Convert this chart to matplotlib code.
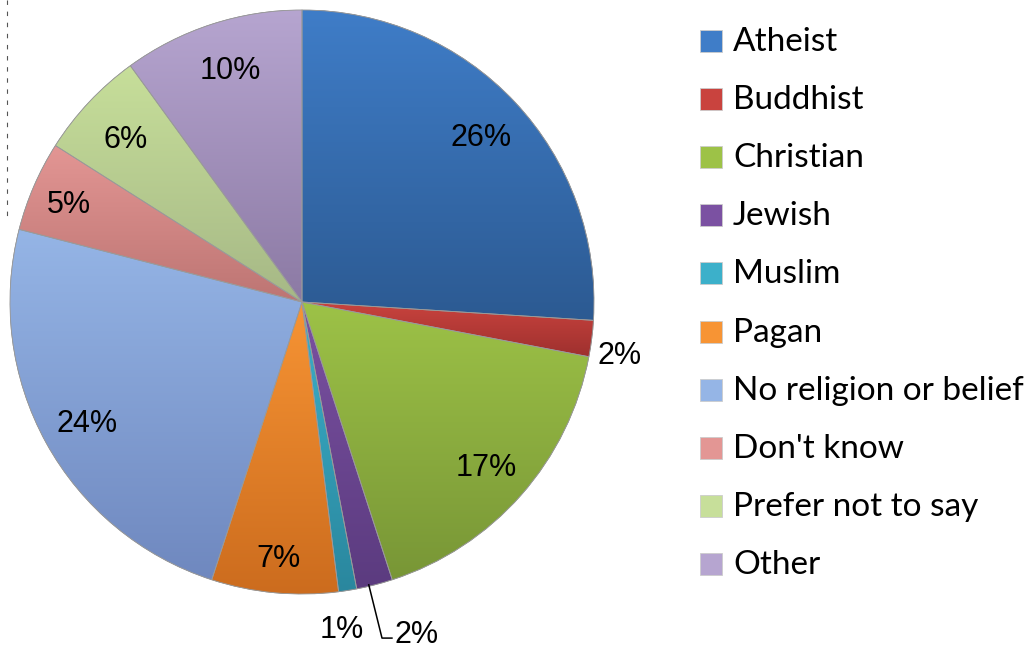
import numpy as np
import matplotlib
matplotlib.use("Agg")
import matplotlib.pyplot as plt
from matplotlib.colors import to_rgb
from matplotlib.patches import Rectangle, Wedge

labels = ["Atheist", "Buddhist", "Christian", "Jewish", "Muslim", "Pagan",
          "No religion or belief", "Don't know", "Prefer not to say", "Other"]
values = [26, 2, 17, 2, 1, 7, 24, 5, 6, 10]
pct_text = ["26%", "2%", "17%", "2%", "1%", "7%", "24%", "5%", "6%", "10%"]

# top / bottom colours of each slice's gradient
top_cols = ["#3f7dc8", "#c9433e", "#9dc247", "#7b51a2", "#3cb0ca", "#f79434",
            "#95b5e6", "#e39694", "#c7df9a", "#b6a5d0"]
bot_cols = ["#2c5a92", "#9e302e", "#789636", "#5b3b7f", "#2a879e", "#cc6c1e",
            "#6f88bf", "#bd7573", "#a6b886", "#8c7aa4"]

fig = plt.figure(figsize=(10.31, 6.5), dpi=100)
W, H = 1031, 650
cx, cy, R = 302, 302, 292
ax = fig.add_axes([(cx - R) / W, (H - cy - R) / H, 2 * R / W, 2 * R / H])

wedges, _ = ax.pie(values, startangle=90, counterclock=False, radius=1,
                   colors=top_cols,
                   wedgeprops=dict(linewidth=0.6, edgecolor="#8a8a8a"))

for w, c1, c2 in zip(wedges, top_cols, bot_cols):
    bb = w.get_path().get_extents(w.get_transform() + ax.transData.inverted())
    t = np.linspace(0, 1, 256)[:, None]
    img = (1 - t) * np.array(to_rgb(c1)) + t * np.array(to_rgb(c2))
    img = img[:, None, :].repeat(2, axis=1)
    im = ax.imshow(img, extent=[bb.x0, bb.x1, bb.y0, bb.y1], origin="upper",
                   aspect="auto", zorder=w.get_zorder() + 0.1)
    im.set_clip_path(w)
    ax.add_patch(Wedge(w.center, w.r, w.theta1, w.theta2, facecolor="none",
                       edgecolor="#9a9a9a", linewidth=0.6,
                       zorder=w.get_zorder() + 0.2))

# label radii (fractions of radius) and small angle nudges (degrees, clockwise)
label_r = [0.84, 1.10, 0.84, None, 1.12, 0.87, 0.84, 0.87, 0.83, 0.84]
label_nudge = [0, 1.8, 0, 0, 2.0, 0, 0, 0, 0, 1.0]
font_lab = "Liberation Sans"
cum = 0
for i, v in enumerate(values):
    mid = np.deg2rad(90 - (cum + v / 2) * 3.6 - label_nudge[i])
    cum += v
    if label_r[i] is None:
        continue
    r = label_r[i]
    ax.text(r * np.cos(mid), r * np.sin(mid) - 0.013, pct_text[i],
            ha="center", va="center", fontsize=22, family=font_lab,
            zorder=10, clip_on=False)

# Jewish label with leader line
cum_j = sum(values[:3]) + values[3] / 2
mid = np.deg2rad(90 - cum_j * 3.6)
x0, y0 = np.cos(mid), np.sin(mid)
ax.plot([x0 - 0.02, 0.274, 0.308], [y0, -1.151, -1.151], color="black",
        lw=1.1, clip_on=False, zorder=10)
ax.text(0.318, -1.14, pct_text[3], ha="left", va="center", fontsize=22,
        family=font_lab, zorder=10, clip_on=False)

ax.set_xlim(-1, 1)
ax.set_ylim(-1, 1)
ax.set_aspect("equal")
ax.axis("off")

# legend
font_leg = "Lato"
for i, name in enumerate(labels):
    yc = 41 + i * 58.1
    fig.patches.append(Rectangle((700 / W, (H - yc - 11) / H), 22 / W, 22 / H,
                                 transform=fig.transFigure,
                                 facecolor=top_cols[i], edgecolor="#cccccc",
                                 linewidth=0.6))
    fig.text(733 / W, (H - yc - 1) / H, name, ha="left", va="center",
             fontsize=24, family=font_leg)

# faint dashed edge at left
fig.add_artist(plt.Line2D([7 / W, 7 / W], [1, (H - 222) / H],
                          transform=fig.transFigure, color="#555555",
                          lw=0.8, linestyle=(0, (4, 6))))

fig.savefig("out.png", dpi=100)
